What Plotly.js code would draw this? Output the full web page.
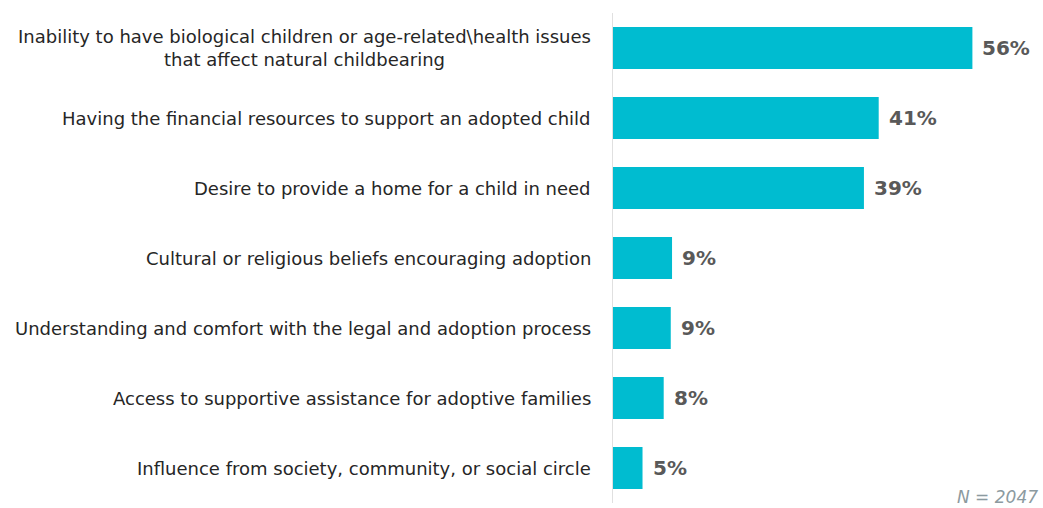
<!DOCTYPE html>
<html>
<head>
<meta charset="utf-8">
<script src="https://cdn.plot.ly/plotly-3.0.1.min.js"></script>
<style>html,body{margin:0;padding:0;background:#fff;}#chart{width:1043px;height:508px;}</style>
</head>
<body>
<div id="chart"></div>
<script>
const categories = [
  "Inability to have biological children or age-related\\health issues<br>that affect natural childbearing",
  "Having the financial resources to support an adopted child",
  "Desire to provide a home for a child in need",
  "Cultural or religious beliefs encouraging adoption",
  "Understanding and comfort with the legal and adoption process",
  "Access to supportive assistance for adoptive families",
  "Influence from society, community, or social circle"
];
const values = [56, 41.4, 39.1, 9.2, 9.0, 7.9, 4.6];
const valueLabels = ["56%", "41%", "39%", "9%", "9%", "8%", "5%"];
const sampleNote = "N = 2047";

const ids = categories.map((c, i) => "c" + i);

const annotations = [];
categories.forEach((c, i) => {
  annotations.push({
    x: 0, y: ids[i], xref: "x", yref: "y",
    text: c, showarrow: false, xanchor: "right", align: "center",
    xshift: -20,
    font: {family: "DejaVu Sans", size: 18, color: "#262626"}
  });
  annotations.push({
    x: values[i], y: ids[i], xref: "x", yref: "y",
    text: valueLabels[i], showarrow: false, xanchor: "left",
    xshift: 8,
    font: {family: "DejaVu Sans", size: 20, color: "#595959", weight: "bold"}
  });
});
annotations.push({
  x: 1, y: 0, xref: "paper", yref: "paper", yshift: 6, xshift: -3,
  text: "<i>" + sampleNote + "</i>", showarrow: false, xanchor: "right", yanchor: "middle",
  font: {family: "DejaVu Sans", size: 17, color: "#8c9aa0"}
});

Plotly.newPlot("chart", [{
  type: "bar", orientation: "h",
  x: values, y: ids,
  marker: {color: "#00BCD0"},
  hoverinfo: "skip"
}], {
  width: 1043, height: 508,
  margin: {l: 613, r: 0, t: 13, b: 5, pad: 0},
  paper_bgcolor: "#fff", plot_bgcolor: "#fff",
  bargap: 0.4,
  showlegend: false,
  xaxis: {range: [0, 67.0], visible: false, showgrid: false, zeroline: false},
  yaxis: {autorange: "reversed", showticklabels: false, ticks: "", showgrid: false, zeroline: false,
          showline: true, linecolor: "#e0e0e0", linewidth: 1.5},
  annotations: annotations
}, {displayModeBar: false, staticPlot: true});
</script>
</body>
</html>
